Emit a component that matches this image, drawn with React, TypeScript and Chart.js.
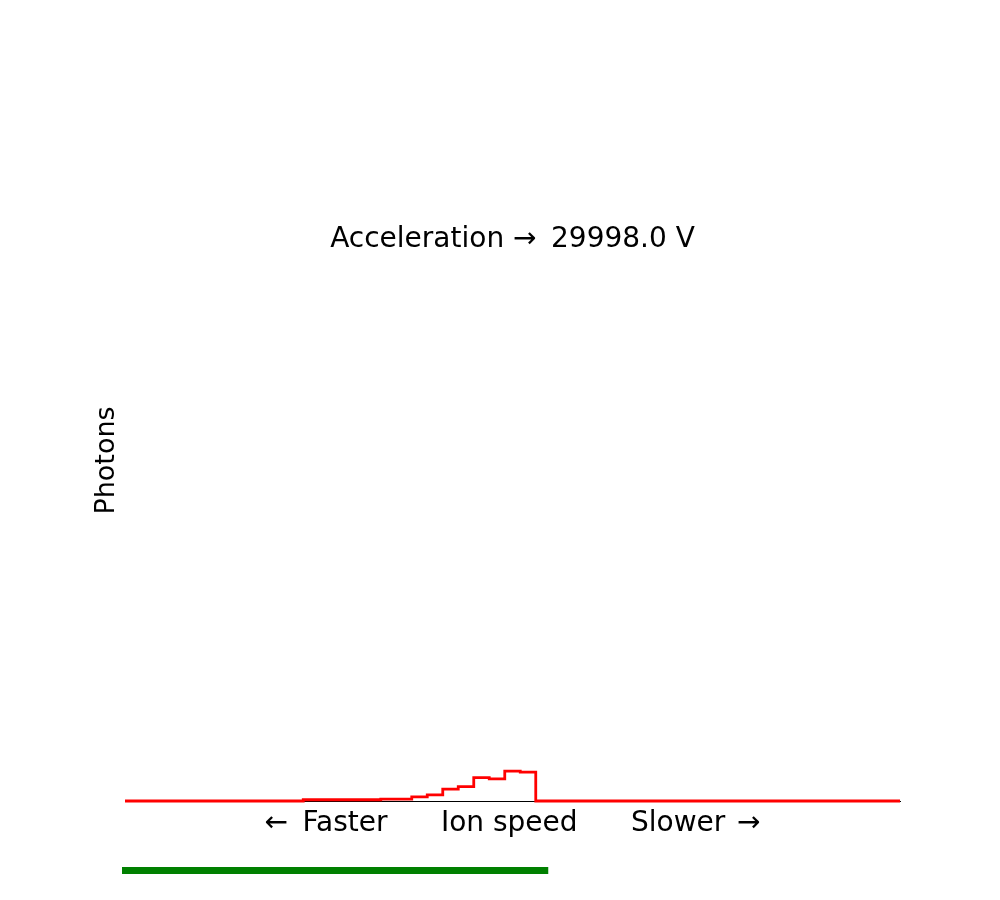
import React, { useEffect, useRef } from "react";
import { Chart, registerables } from "chart.js";

Chart.register(...registerables);

// Bin centres (ion speed bins) and photon counts per bin
const binCenters: number[] = Array.from({ length: 51 }, (_, i) => i);
const photonCounts: number[] = [
  0, 0, 0, 0, 0, 0, 0, 0, 0, 0,
  0, 0, 0.18, 0.18, 0.18, 0.18, 0.18, 0.28, 0.28, 0.6,
  0.88, 1.7, 2.08, 3.38, 3.18, 4.3, 4.16, 0, 0, 0,
  0, 0, 0, 0, 0, 0, 0, 0, 0, 0,
  0, 0, 0, 0, 0, 0, 0, 0, 0, 0,
  0,
];
const titleText = "Acceleration \u2192\u2009 29998.0 V";
const xLabel = "\u2190\u2009 Faster      Ion speed      Slower \u200a\u2192";
const yLabel = "Photons";
const progressFraction = 0.55;
const yMax = 100;

const FONT = "'DejaVu Sans', sans-serif";

const overlayPlugin = {
  id: "overlay",
  afterDraw(chart: any) {
    const { ctx, chartArea } = chart;
    ctx.save();
    ctx.fillStyle = "#000";
    ctx.textAlign = "center";
    ctx.textBaseline = "middle";
    const h = chartArea.bottom - chartArea.top;
    // title text inside axes
    ctx.font = `28px ${FONT}`;
    const cx = (chartArea.left + chartArea.right) / 2;
    const ty = chartArea.top + 0.1905 * h;
    ctx.fillText(titleText, cx, ty);
    // y label
    ctx.save();
    ctx.font = `27px ${FONT}`;
    ctx.translate(chartArea.left - 18.5, chartArea.top + h / 2 + 6);
    ctx.rotate(-Math.PI / 2);
    ctx.fillText(yLabel, 0, 0);
    ctx.restore();
    // progress bar
    ctx.strokeStyle = "#008000";
    ctx.lineWidth = 7;
    ctx.lineCap = "butt";
    const x0 = chartArea.left - 3;
    const x1 = x0 + progressFraction * (chartArea.right - chartArea.left);
    const y = chartArea.bottom + 69.5;
    ctx.beginPath();
    ctx.moveTo(x0, y);
    ctx.lineTo(x1, y);
    ctx.stroke();
    ctx.restore();
  },
};

export default function App() {
  const ref = useRef<HTMLCanvasElement | null>(null);
  useEffect(() => {
    if (!ref.current) return;
    const chart = new Chart(ref.current, {
      type: "line",
      data: {
        datasets: [
          {
            data: binCenters.map((x, i) => ({ x, y: photonCounts[i] })),
            borderColor: "#ff0000",
            borderWidth: 2.8,
            pointRadius: 0,
            stepped: "middle",
            fill: false,
            clip: false as any,
          },
        ],
      },
      options: {
        animation: false,
        responsive: false,
        devicePixelRatio: 1,
        layout: { padding: { left: 0, top: 108, right: 100, bottom: 0 } },
        plugins: { legend: { display: false }, tooltip: { enabled: false }, title: { display: false } },
        scales: {
          x: {
            type: "linear",
            min: 0,
            max: 50,
            ticks: { display: false },
            grid: { display: false },
            border: { display: true, color: "#000", width: 1 },
            title: {
              display: true,
              text: xLabel,
              color: "#000",
              font: { family: FONT, size: 28 },
              padding: { top: 0, bottom: 59 },
            },
            afterFit: (s: any) => {
              s.height = 99;
            },
          },
          y: {
            min: 0,
            max: yMax,
            ticks: { display: false },
            grid: { display: false },
            border: { display: false },
            title: { display: false },
            afterFit: (s: any) => {
              s.width = 125;
            },
          },
        },
      },
      plugins: [overlayPlugin],
    });
    return () => chart.destroy();
  }, []);
  return (
    <div style={{ position: "absolute", left: 0, top: 0, width: 1000, height: 900, background: "#fff" }}>
      <canvas ref={ref} width={1000} height={900} style={{ width: 1000, height: 900 }} />
    </div>
  );
}
